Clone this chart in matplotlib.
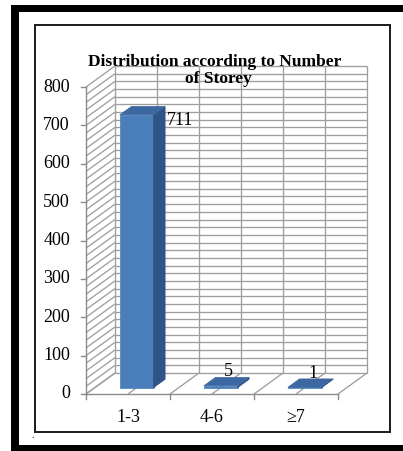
import matplotlib
matplotlib.use("Agg")
import matplotlib.pyplot as plt
from matplotlib.patches import Polygon, Rectangle
import numpy as np

# ---- data -------------------------------------------------------------
categories = ["1-3", "4-6", "\u22657"]
counts = [711, 5, 1]
value_ticks = [0, 100, 200, 300, 400, 500, 600, 700, 800]
minor_step = 20
title_lines = ["Distribution according to Number", "of Storey"]

# ---- figure -----------------------------------------------------------
W, H = 403, 451
DPI = 100
fig = plt.figure(figsize=(W / DPI, H / DPI), dpi=DPI)
fig.patch.set_facecolor("white")

def fx(px):
    return px / W

def fy(py):
    return 1 - py / H

# outer black frame (top, left, bottom bands) and inner chart border
for (x0, y0, x1, y1) in [(11, 5, W, 12), (11, 5, 19, H), (11, 445, W, H)]:
    fig.add_artist(Rectangle((fx(x0), fy(y1)), fx(x1) - fx(x0), fy(y0) - fy(y1),
                             transform=fig.transFigure, facecolor="black",
                             edgecolor="none", zorder=0))
fig.add_artist(Rectangle((fx(35), fy(432)), fx(390) - fx(35), fy(25) - fy(432),
                         transform=fig.transFigure, facecolor="none",
                         edgecolor="#1a1a1a", linewidth=1.4, zorder=0))

# axes covering the front plane of the 3-D plot
n = len(categories)
vmax = value_ticks[-1]
front_left, front_right, front_bottom, front_top = 86, 338, 394, 87
ax = fig.add_axes([fx(front_left), fy(front_bottom),
                   fx(front_right) - fx(front_left), fy(front_top) - fy(front_bottom)])
ax.set_xlim(0, n)
ax.set_ylim(0, vmax)
ax.axis("off")

px_per_x = (front_right - front_left) / n
px_per_v = (front_bottom - front_top) / vmax
DX = 29 / px_per_x        # depth offset, category units
DY = 21 / px_per_v        # depth offset, value units


def proj(x, v, t):
    return x + t * DX, v + t * DY


grid_kw = dict(color="#9e9e9e", lw=0.95, clip_on=False, zorder=1,
               solid_capstyle="butt")

def seg(p, q, **kw):
    ax.plot([p[0], q[0]], [p[1], q[1]], **kw)

# back wall and side wall gridlines
for v in range(0, vmax + 1, minor_step):
    seg(proj(0, v, 1), proj(n, v, 1), **grid_kw)
    seg(proj(0, v, 0), proj(0, v, 1), **grid_kw)
for x in np.arange(0, n + 0.01, 0.5):
    seg(proj(x, 0, 1), proj(x, vmax, 1), **grid_kw)
    seg(proj(x, 0, 0), proj(x, 0, 1), **grid_kw)

# front axis lines
axis_kw = dict(color="#8c8c8c", lw=1.0, clip_on=False, zorder=1)
seg((0, 0), (0, vmax), **axis_kw)
seg((0, 0), (n, 0), **axis_kw)

tick_px = 5
for v in value_ticks:
    seg((0, v), (-tick_px / px_per_x, v), **axis_kw)
for i in range(n + 1):
    seg((i, 0), (i, -tick_px / px_per_v), **axis_kw)

font = "Liberation Serif"
for v in value_ticks:
    ax.annotate(str(v), (0, v), xytext=(-16, 0), textcoords="offset pixels",
                ha="right", va="center", fontsize=13, family=font,
                annotation_clip=False)
for i, c in enumerate(categories):
    ax.annotate(c, (i + 0.5, 0), xytext=(0, -24), textcoords="offset pixels",
                ha="center", va="center", fontsize=13, family=font,
                annotation_clip=False)

# bars
front_col, side_col, top_col = "#4a7ebb", "#2f5486", "#3d67a0"
w0, w1 = 0.3, 0.7     # bar extent within a category
t0, t1 = 0.3, 0.7     # bar extent in depth
for i, val in enumerate(counts):
    x0, x1 = i + w0, i + w1
    front = [proj(x0, 0, t0), proj(x1, 0, t0), proj(x1, val, t0), proj(x0, val, t0)]
    side = [proj(x1, 0, t0), proj(x1, 0, t1), proj(x1, val, t1), proj(x1, val, t0)]
    top = [proj(x0, val, t0), proj(x1, val, t0), proj(x1, val, t1), proj(x0, val, t1)]
    for pts, col in [(front, front_col), (side, side_col), (top, top_col)]:
        ax.add_patch(Polygon(pts, closed=True, facecolor=col, edgecolor=col,
                             lw=0.5, clip_on=False, zorder=3))

# value labels
tall = proj(w1, counts[0], t1)
ax.annotate(str(counts[0]), tall, xytext=(2, -14), textcoords="offset pixels",
            ha="left", va="center", fontsize=13, family=font,
            annotation_clip=False, zorder=4)
for i in range(1, n):
    pos = proj(i + 0.5, counts[i], 0.5)
    ax.annotate(str(counts[i]), pos, xytext=(2, 10), textcoords="offset pixels",
                ha="center", va="center", fontsize=13, family=font,
                annotation_clip=False, zorder=4)

# title
fig.text(fx(215), fy(66), title_lines[0], ha="center", va="baseline",
         fontsize=12.5, fontweight="bold", family=font, zorder=5)
fig.text(fx(218), fy(83), title_lines[1], ha="center", va="baseline",
         fontsize=12.5, fontweight="bold", family=font, zorder=5)

fig.text(fx(33), fy(438), ".", ha="center", va="baseline", fontsize=7, family=font)

fig.savefig("out.png", dpi=DPI)
